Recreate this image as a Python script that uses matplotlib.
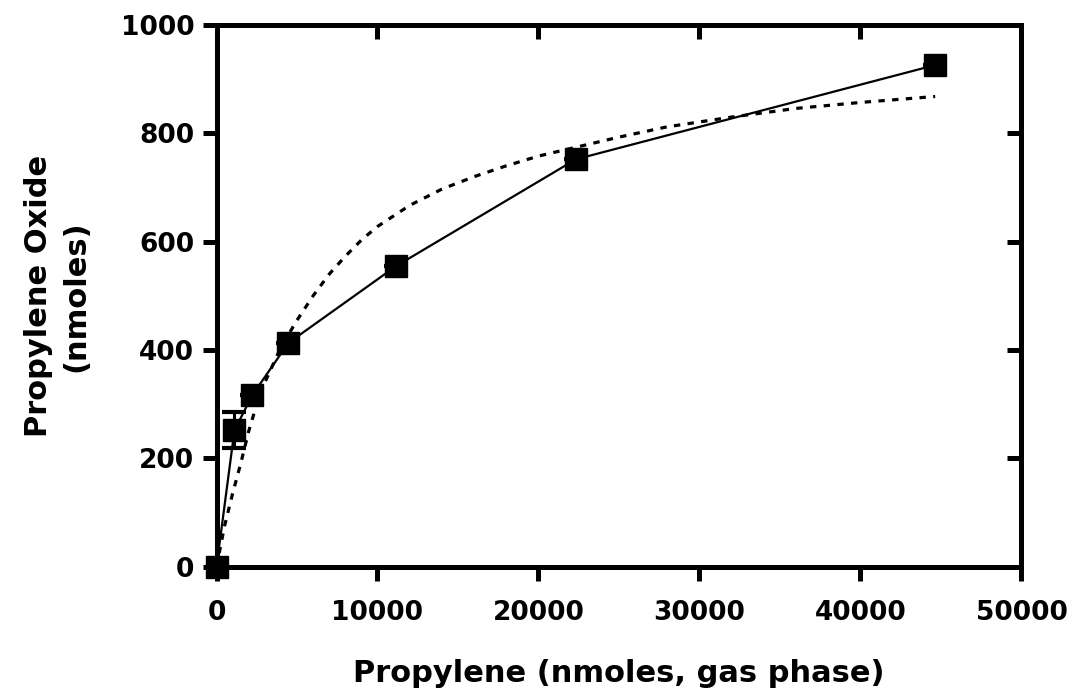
import matplotlib
matplotlib.use("Agg")
import matplotlib.pyplot as plt

# Data
propylene = [0, 1116, 2232, 4464, 11160, 22320, 44640]
oxide = [0, 252, 317, 413, 555, 752, 926]
oxide_err = [0, 33, 0, 0, 0, 0, 0]

# Dotted fitted curve
fit_x = [0, 500, 1000, 1500, 2000, 2500, 3000, 4000, 5000, 6000, 7000, 8000,
         9000, 10000, 12000, 14000, 16000, 18000, 20000, 22000, 25000, 28000,
         32000, 36000, 40000, 44640]
fit_y = [0, 75, 135, 190, 250, 300, 340, 405, 455, 500, 540, 573,
         603, 628, 667, 697, 720, 740, 758, 772, 793, 812,
         830, 846, 857, 868]

x_ticks = [0, 10000, 20000, 30000, 40000, 50000]
y_ticks = [0, 200, 400, 600, 800, 1000]

plt.rcParams['font.family'] = ['DejaVu Sans']
plt.rcParams['font.weight'] = 'bold'

fig = plt.figure(figsize=(10.75, 6.92), dpi=100)
ax = fig.add_axes([0.2014, 0.1811, 0.7488, 0.7828])

ax.plot(fit_x, fit_y, color='black', lw=2.3, linestyle=(0, (2, 2.3)),
        zorder=2, dash_capstyle='butt')
ax.errorbar(propylene, oxide, yerr=oxide_err, color='black', lw=1.6,
            marker='s', markersize=16, ecolor='black', elinewidth=2.2,
            capsize=8.3, capthick=3, clip_on=False, zorder=3)

ax.set_xlim(0, 50000)
ax.set_ylim(0, 1000)
ax.set_xticks(x_ticks)
ax.set_yticks(y_ticks)
ax.set_xticklabels([str(v) for v in x_ticks])
ax.set_yticklabels([str(v) for v in y_ticks])

for s in ax.spines.values():
    s.set_linewidth(3.6)
    s.set_capstyle('projecting')
ax.tick_params(axis='both', direction='out', length=10, width=3.6,
               labelsize=19)
ax.tick_params(axis='x', pad=14)
ax.tick_params(axis='y', pad=6)
for lab in ax.get_xticklabels() + ax.get_yticklabels():
    lab.set_fontweight('bold')

# inward ticks on top and right
sx = ax.secondary_xaxis('top')
sx.set_xticks([10000, 20000, 30000, 40000])
sx.tick_params(direction='in', length=10, width=3.6, labeltop=False)
sx.spines['top'].set_linewidth(3.6)
sy = ax.secondary_yaxis('right')
sy.set_yticks([200, 400, 600, 800])
sy.tick_params(direction='in', length=10, width=3.6, labelright=False)
sy.spines['right'].set_linewidth(3.6)

ax.set_xlabel('Propylene (nmoles, gas phase)', fontsize=22,
              fontweight='bold', labelpad=24)
ax.set_ylabel('Propylene Oxide\n(nmoles)', fontsize=22, fontweight='bold',
              labelpad=22, linespacing=1.35)

fig.savefig('out.png', dpi=100)
